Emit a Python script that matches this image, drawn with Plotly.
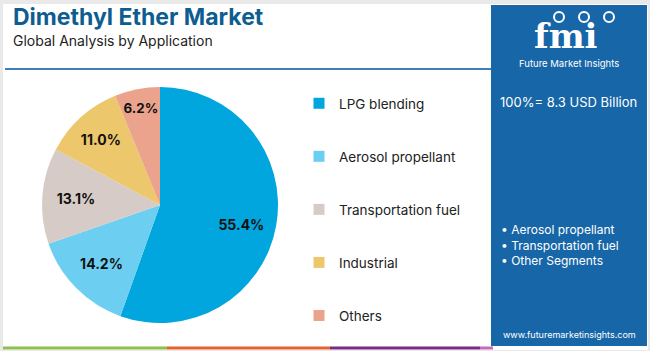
import plotly.graph_objects as go

W, H = 650, 351

labels = ["LPG blending", "Aerosol propellant", "Transportation fuel", "Industrial", "Others"]
values = [55.4, 14.2, 13.1, 11.0, 6.2]
colors = ["#00a6dd", "#6ccff1", "#d6cbc7", "#edc76c", "#eca38d"]

title = "Dimethyl Ether Market"
subtitle = "Global Analysis by Application"
total_text = "100%= 8.3 USD Billion"
bullets = ["• Aerosol propellant", "• Transportation fuel", "• Other Segments"]
url = "www.futuremarketinsights.com"

def px(x):
    return x / W

def py(y):
    return 1 - y / H

NB = "\u00a0"
templates = [NB + "<br>" + NB * 14 + "%{value:.1f}%"] + ["%{value:.1f}%"] * (len(values) - 1)

fig = go.Figure()

fig.add_trace(go.Pie(
    labels=labels, values=values, sort=False, direction="clockwise", rotation=0,
    marker=dict(colors=colors, line=dict(width=0)),
    texttemplate=templates, textposition="inside", insidetextorientation="horizontal",
    textfont=dict(family="Inter", size=14, color="#111111", weight="bold"),
    domain=dict(x=[px(42), px(278)], y=[py(323), py(87)]),
    showlegend=False, hoverinfo="label+percent",
))

for i, (lab, col) in enumerate(zip(labels, colors)):
    fig.add_trace(go.Scatter(
        x=[None], y=[None], mode="markers", name=lab,
        marker=dict(symbol="square", size=11, color=col),
        legendgroup=lab, showlegend=True,
    ))

shapes = []
shapes.append(dict(type="rect", xref="paper", yref="paper", x0=0, x1=1, y0=0, y1=1,
                   line=dict(width=0), fillcolor="#e9e9e9", layer="below"))
shapes.append(dict(type="rect", xref="paper", yref="paper", x0=px(3), x1=px(648), y0=py(350), y1=py(4),
                   line=dict(width=0), fillcolor="#ffffff", layer="below"))
shapes.append(dict(type="line", xref="paper", yref="paper", x0=px(5), x1=px(491), y0=py(69), y1=py(69),
                   line=dict(color="#3f7fb5", width=2)))
for x0, x1, c in [(3, 167, "#8cc04b"), (167, 330, "#e5622f"), (330, 480, "#7d2a85"), (480, 493, "#c46bc0")]:
    shapes.append(dict(type="line", xref="paper", yref="paper", x0=px(x0), x1=px(x1), y0=py(348), y1=py(348),
                       line=dict(color=c, width=3)))
shapes.append(dict(type="rect", xref="paper", yref="paper", x0=px(491), x1=px(647), y0=py(346), y1=py(5),
                   line=dict(width=0), fillcolor="#1766a8"))
for cx in [559, 584, 609]:
    shapes.append(dict(type="circle", xref="paper", yref="paper", x0=px(cx - 5), x1=px(cx + 5),
                       y0=py(22), y1=py(12), line=dict(color="white", width=2), fillcolor="#1766a8"))

annotations = [
    dict(text="<b>" + title + "</b>", x=px(11), y=py(17), xanchor="left", yanchor="middle",
         font=dict(family="Inter", size=23, color="#0e5d90")),
    dict(text=subtitle, x=px(11), y=py(40), xanchor="left", yanchor="middle",
         font=dict(family="Inter", size=14, color="#222222")),
    dict(text="<b>fmi</b>", x=px(566), y=py(36), xanchor="center", yanchor="middle",
         font=dict(family="DejaVu Serif", size=34, color="white")),
    dict(text="Future Market Insights", x=px(569), y=py(63), xanchor="center", yanchor="middle",
         font=dict(family="Inter", size=9.5, color="white")),
    dict(text=total_text, x=px(568), y=py(102), xanchor="center", yanchor="middle",
         font=dict(family="Inter", size=13, color="white")),
    dict(text="<br>".join(bullets), x=px(499), y=py(245), xanchor="left", yanchor="middle", align="left",
         font=dict(family="Inter", size=12, color="white")),
    dict(text=url, x=px(569), y=py(334), xanchor="center", yanchor="middle",
         font=dict(family="Inter", size=9, color="white")),
]
for a in annotations:
    a.update(xref="paper", yref="paper", showarrow=False)

fig.update_layout(
    width=W, height=H, margin=dict(l=0, r=0, t=0, b=0),
    paper_bgcolor="#ffffff", plot_bgcolor="rgba(0,0,0,0)",
    xaxis=dict(visible=False), yaxis=dict(visible=False),
    shapes=shapes, annotations=annotations,
    legend=dict(x=px(299), y=py(88), xanchor="left", yanchor="top",
                font=dict(family="Inter", size=13.5, color="#222222"),
                tracegroupgap=32.5, itemwidth=30, bgcolor="rgba(0,0,0,0)"),
)

fig.write_html("out.html")
